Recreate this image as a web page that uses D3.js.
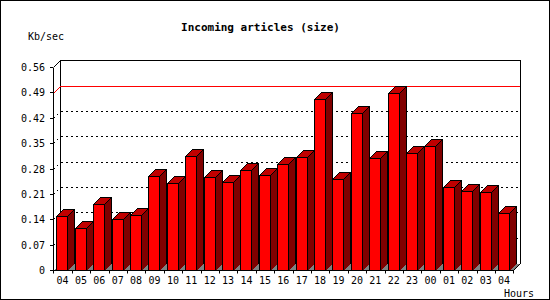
<!DOCTYPE html>
<html>
<head>
<meta charset="utf-8">
<script src="https://cdn.jsdelivr.net/npm/d3@7"></script>
<style>
  html, body { margin: 0; padding: 0; background: #fff; }
  svg { display: block; }
  text { font-family: "DejaVu Sans Mono", monospace; fill: #000; }
  path, rect { shape-rendering: crispEdges; }
</style>
</head>
<body>
<svg id="chart" width="550" height="300"></svg>
<script>
// ---- data ----
const hours = ["04","05","06","07","08","09","10","11","12","13","14","15","16","17","18","19","20","21","22","23","00","01","02","03","04"];
const values = [0.149,0.115,0.181,0.140,0.151,0.259,0.240,0.314,0.256,0.242,0.276,0.262,0.292,0.311,0.473,0.250,0.432,0.308,0.487,0.324,0.342,0.228,0.217,0.214,0.156];
const yTicks = [0,0.07,0.14,0.21,0.28,0.35,0.42,0.49,0.56];
const yTickLabels = ["0","0.07","0.14","0.21","0.28","0.35","0.42","0.49","0.56"];
const dottedGrid = [0.07,0.14,0.21,0.28,0.35,0.42];
const redLine = [0.49];
const titleText = "Incoming articles (size)";
const yUnit = "Kb/sec";
const xUnit = "Hours";

// ---- layout ----
const svg = d3.select("#chart");
const D = 7; // 3D depth
const x = d3.scaleBand().domain(d3.range(values.length)).range([53.3, 513.3]).padding(0);
const y = d3.scaleLinear().domain([0, 0.56]).range([270, 67]).interpolate(d3.interpolateRound);
const X0 = 53, X1 = 513, Y0 = y(0), Ytop = y(0.56);

// outer border
svg.append("rect").attr("x",0.5).attr("y",0.5).attr("width",549).attr("height",299)
  .attr("fill","#fff").attr("stroke","#000");

// title
svg.append("text").attr("x",260.5).attr("y",31).attr("text-anchor","middle")
  .style("font-size","11px").style("font-weight","bold").text(titleText);
svg.append("text").attr("x",28).attr("y",40).style("font-size","10px").text(yUnit);
svg.append("text").attr("x",534).attr("y",297).attr("text-anchor","end").style("font-size","10px").text(xUnit);

// back wall
const g = svg.append("g");
g.append("path")
  .attr("d", `M${X0+D+0.5},${Y0-D+0.5}V${Ytop-D+0.5}H${X1+D+0.5}V${Y0-D+0.5}`)
  .attr("fill","#fff").attr("stroke","#000");

// dotted grid lines (left wall diagonal + back wall)
function gridPath(v){
  const yy = y(v) + 0.5;
  return `M${X0+0.5},${yy}L${X0+D+0.5},${yy-D}H${X1+D+0.5}`;
}
g.selectAll("path.grid").data(dottedGrid).join("path").attr("class","grid")
  .attr("d", gridPath).attr("fill","none").attr("stroke","#000").attr("stroke-dasharray","2,3");

// red line: horizontal on back wall + diagonal on left wall
g.selectAll("line.redh").data(redLine).join("line").attr("class","redh")
  .attr("x1", X0 + D).attr("x2", X1 + D + 1)
  .attr("y1", v => y(v) - D + 1.5).attr("y2", v => y(v) - D + 1.5)
  .attr("stroke","#ff0000");
g.selectAll("line.redd").data(redLine).join("line").attr("class","redd")
  .attr("x1", X0 + 0.5).attr("x2", X0 + D + 0.5)
  .attr("y1", v => y(v) + 1.5).attr("y2", v => y(v) - D + 1.5)
  .attr("stroke","#ff0000");

// top-left diagonal of axis
g.append("line").attr("x1", X0+0.5).attr("y1", Ytop+0.5).attr("x2", X0+D+0.5).attr("y2", Ytop-D+0.5)
  .attr("stroke","#000");

// floor
g.append("path")
  .attr("d", `M${X0+0.5},${Y0+0.5}L${X0+D+0.5},${Y0-D+0.5}H${X1+D+0.5}L${X1+0.5},${Y0+0.5}Z`)
  .attr("fill","#808080").attr("stroke","none");

// bars
const bars = g.selectAll("g.bar").data(values).join("g").attr("class","bar");
bars.each(function(v, i){
  const b = d3.select(this);
  const fx = Math.round(x(i) + 3) + 0.5;
  const w = 11;
  const ty = y(v) + 0.5;
  const by = Y0 + 0.5;
  // side
  b.append("path")
    .attr("d", `M${fx+w},${by}L${fx+w},${ty}L${fx+w+D},${ty-D}L${fx+w+D},${by-D}`)
    .attr("fill","#800000").attr("stroke","#000");
  // top
  b.append("path")
    .attr("d", `M${fx},${ty}L${fx+D},${ty-D}L${fx+w+D},${ty-D}L${fx+w},${ty}Z`)
    .attr("fill","#c00000").attr("stroke","#000");
  // front
  b.append("rect").attr("x",fx).attr("y",ty).attr("width",w).attr("height",by-ty)
    .attr("fill","#ff0000").attr("stroke","#000");
});

// floor front edge + right diagonal + right wall edge
g.append("path")
  .attr("d", `M${X0+0.5},${Y0+0.5}H${X1+0.5}L${X1+D+0.5},${Y0-D+0.5}V${Ytop-D+0.5}`)
  .attr("fill","none").attr("stroke","#000");

// y axis
const yAxis = d3.axisLeft(y).tickValues(yTicks)
  .tickFormat((d,i) => yTickLabels[i]).tickSize(3).tickSizeOuter(0).tickPadding(5);
const ya = svg.append("g").attr("transform",`translate(${X0},0)`).call(yAxis);
ya.selectAll("text").style("font-size","10px").style("font-family","DejaVu Sans Mono, monospace");
ya.select(".domain").attr("stroke","#000");

// x axis labels
const xAxis = d3.axisBottom(x).tickFormat(i => hours[i]).tickSize(0).tickSizeOuter(0).tickPadding(7);
const xa = svg.append("g").attr("transform",`translate(0,${Y0})`).call(xAxis);
xa.select(".domain").remove();
xa.selectAll("text").style("font-size","10px").style("font-family","DejaVu Sans Mono, monospace");

// x ticks at band boundaries
const bounds = d3.range(values.length + 1).map(i => i < values.length ? x(i) : x(values.length-1) + x.bandwidth());
svg.selectAll("line.xt").data(bounds).join("line").attr("class","xt")
  .attr("x1", d => Math.round(d) + 0.5).attr("x2", d => Math.round(d) + 0.5)
  .attr("y1", Y0 + 0.5).attr("y2", Y0 + 3.5).attr("stroke","#000");
</script>
</body>
</html>
